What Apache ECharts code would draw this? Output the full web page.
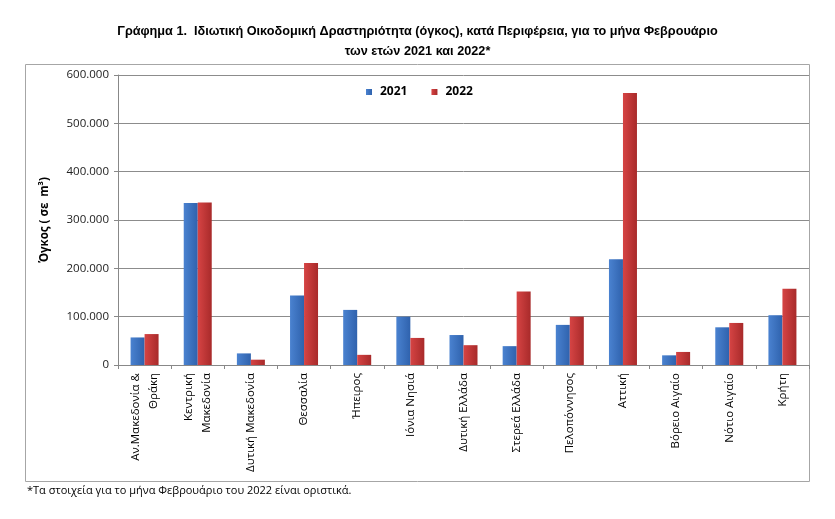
<!DOCTYPE html>
<html>
<head>
<meta charset="utf-8">
<script src="https://cdn.jsdelivr.net/npm/echarts@6/dist/echarts.min.js"></script>
<style>
html,body{margin:0;padding:0;background:#fff;}
#c{width:835px;height:519px;}
</style>
</head>
<body>
<div id="c"></div>
<script>
const categories = ['Αν.Μακεδονία &\nΘράκη','Κεντρική\nΜακεδονία','Δυτική Μακεδονία','Θεσσαλία','Ήπειρος','Ιόνια Νησιά','Δυτική Ελλάδα','Στερεά Ελλάδα','Πελοπόννησος','Αττική','Βόρειο Αιγαίο','Νότιο Αιγαίο','Κρήτη'];
const values2021 = [57000, 335000, 24000, 144000, 114000, 100000, 62000, 39000, 83000, 219000, 20000, 78000, 103000];
const values2022 = [64000, 336000, 11000, 211000, 21000, 56000, 41000, 152000, 100000, 563000, 27000, 87000, 158000];
const yTicks = [0, 100000, 200000, 300000, 400000, 500000, 600000];

const chart = echarts.init(document.getElementById('c'), null, {renderer:'canvas'});
const fmt = v => v === 0 ? '0' : v.toLocaleString('de-DE');
const grad = (a, b) => new echarts.graphic.LinearGradient(0, 0, 1, 0, [{offset:0,color:a},{offset:1,color:b}]);
const narrow = '"Liberation Sans Narrow","Liberation Sans",sans-serif';
const txt = '"Open Sans","Noto Sans",sans-serif';

chart.setOption({
  animation:false,
  backgroundColor:'#fff',
  title:{
    text:'Γράφημα 1.  Ιδιωτική Οικοδομική Δραστηριότητα (όγκος), κατά Περιφέρεια, για το μήνα Φεβρουάριο\nτων ετών 2021 και 2022*',
    left:'center', top:16,
    textStyle:{fontFamily:narrow, fontWeight:'bold', fontSize:12.7, color:'#000', lineHeight:20}
  },
  graphic:[
    {type:'rect', shape:{x:25.5,y:64.5,width:784,height:417}, style:{fill:'none', stroke:'#a6a6a6', lineWidth:1}, z:-1},
    {type:'text', left:27, top:485, style:{text:'*Τα στοιχεία για το μήνα Φεβρουάριο του 2022 είναι οριστικά.', fontFamily:txt, fontSize:11, fill:'#000'}}
  ],
  legend:{
    data:['2021','2022'], top:81, left:361, itemWidth:6, itemHeight:6, itemGap:24, icon:'rect',
    textStyle:{fontFamily:txt, fontWeight:'bold', fontSize:12, color:'#000', padding:[0,0,0,3]}
  },
  grid:{left:118, right:26, top:75, bottom:154},
  xAxis:{
    type:'category', data:categories,
    axisLine:{lineStyle:{color:'#888'}},
    axisTick:{show:true, interval:0, length:4, lineStyle:{color:'#888'}},
    axisLabel:{interval:0, rotate:90, fontFamily:txt, fontSize:11.5, color:'#000', margin:8, lineHeight:18}
  },
  yAxis:{
    type:'value', min:0, max:600000, interval:100000,
    name:'Όγκος ( σε  m³)', nameLocation:'middle', nameGap:67, nameRotate:90,
    nameTextStyle:{fontFamily:txt, fontWeight:'bold', fontSize:11.5, color:'#000'},
    axisLine:{show:true, lineStyle:{color:'#888'}},
    axisTick:{show:true, length:4, lineStyle:{color:'#888'}},
    splitLine:{lineStyle:{color:'#8c8c8c', width:1}},
    axisLabel:{formatter:fmt, fontFamily:txt, fontSize:11.5, color:'#222', margin:9}
  },
  series:[
    {name:'2021', type:'bar', data:values2021, barWidth:14, barGap:'0%',
      itemStyle:{color:grad('#4a82d0','#2f62ad')}},
    {name:'2022', type:'bar', data:values2022, barWidth:14,
      itemStyle:{color:grad('#d64444','#a82a2a')}}
  ]
});
</script>
</body>
</html>
